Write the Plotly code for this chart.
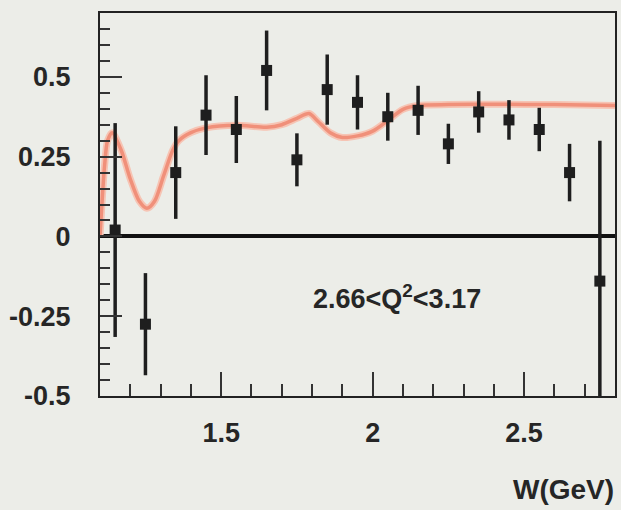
import plotly.graph_objects as go

# Data points (W in GeV, value, error)
w_pts = [1.15, 1.25, 1.35, 1.45, 1.55, 1.65, 1.75, 1.85, 1.95, 2.05, 2.15, 2.25, 2.35, 2.45, 2.55, 2.65, 2.75]
y_pts = [0.02, -0.275, 0.20, 0.38, 0.335, 0.52, 0.24, 0.46, 0.42, 0.375, 0.395, 0.29, 0.39, 0.365, 0.335, 0.20, -0.14]
e_pts = [0.335, 0.16, 0.145, 0.125, 0.105, 0.125, 0.083, 0.11, 0.085, 0.075, 0.077, 0.063, 0.065, 0.062, 0.068, 0.09, 0.44]

# Model curve
w_curve = [1.100, 1.105, 1.115, 1.125, 1.14, 1.17, 1.20, 1.23, 1.255, 1.28, 1.31, 1.34, 1.36, 1.40, 1.45,
           1.55, 1.65, 1.70, 1.75, 1.79, 1.82, 1.86, 1.90, 1.95, 2.00, 2.05, 2.10, 2.15, 2.25, 2.40, 2.60, 2.80]
y_curve = [0.0, 0.08, 0.22, 0.30, 0.325, 0.27, 0.18, 0.11, 0.088, 0.11, 0.19, 0.27, 0.30, 0.325, 0.34,
           0.348, 0.342, 0.35, 0.37, 0.385, 0.36, 0.325, 0.31, 0.315, 0.33, 0.363, 0.398, 0.41, 0.413, 0.414, 0.413, 0.41]

x_tickvals = [1.5, 2, 2.5]
x_ticktext = ["1.5", "2", "2.5"]
y_tickvals = [-0.5, -0.25, 0, 0.25, 0.5]
y_ticktext = ["-0.5", "-0.25", "0", "0.25", "0.5"]

label_text = "2.66<Q<sup>2</sup><3.17"
xtitle_text = "W(GeV)"

FONT = "Liberation Sans, Arial, sans-serif"
BG = "#ecede8"
TXT = "#262626"
FS = 27

fig = go.Figure()
fig.add_trace(go.Scatter(x=w_curve, y=y_curve, mode="lines",
                         line=dict(color="#f6c4b4", width=7, shape="spline", smoothing=0.8),
                         hoverinfo="skip", showlegend=False))
fig.add_trace(go.Scatter(x=w_curve, y=y_curve, mode="lines",
                         line=dict(color="#f0907a", width=3.5, shape="spline", smoothing=0.8),
                         showlegend=False))
fig.add_trace(go.Scatter(x=w_pts, y=y_pts, mode="markers",
                         marker=dict(symbol="square", size=11, color="#1e1e1e"),
                         error_y=dict(type="data", array=e_pts, color="#1e1e1e", thickness=3.5, width=0),
                         showlegend=False))

fig.add_annotation(x=2.08, y=-0.19, xref="x", yref="y", text=label_text, showarrow=False,
                   xanchor="center", yanchor="middle",
                   font=dict(family=FONT, size=FS, color=TXT, weight="bold"))
fig.add_annotation(x=(565 - 100) / 517, y=(396 - 489) / 383, xref="paper", yref="paper",
                   text=xtitle_text, showarrow=False, xanchor="center", yanchor="middle",
                   font=dict(family=FONT, size=FS + 1, color=TXT, weight="bold"))

fig.update_layout(
    width=621, height=510,
    margin=dict(l=100, r=4, t=13, b=114),
    paper_bgcolor=BG, plot_bgcolor=BG,
    font=dict(family=FONT, size=FS, color=TXT, weight="bold"),
    xaxis=dict(range=[1.1, 2.8], showgrid=False, zeroline=False,
               showline=True, linecolor="#222", linewidth=2, mirror=True,
               tickmode="array", tickvals=x_tickvals, ticktext=x_ticktext,
               ticks="inside", ticklen=24, tickwidth=1.5, tickcolor="#333",
               ticklabelstandoff=12,
               tickfont=dict(family=FONT, size=FS, color=TXT, weight="bold"),
               minor=dict(dtick=0.1, tick0=1.1, ticks="inside", ticklen=12, tickwidth=1.5, tickcolor="#333")),
    yaxis=dict(range=[-0.5, 0.7], showgrid=False, zeroline=True, zerolinecolor="#111", zerolinewidth=4,
               showline=True, linecolor="#222", linewidth=2, mirror=True,
               tickmode="array", tickvals=y_tickvals, ticktext=y_ticktext,
               ticks="inside", ticklen=22, tickwidth=1.5, tickcolor="#333",
               ticklabelstandoff=22,
               tickfont=dict(family=FONT, size=FS, color=TXT, weight="bold"),
               minor=dict(dtick=0.05, tick0=0, ticks="inside", ticklen=10, tickwidth=1.5, tickcolor="#333")),
)

fig.write_html("out.html", config={"displayModeBar": False},
               post_script="document.body.style.margin='0';document.body.style.overflow='hidden';")
